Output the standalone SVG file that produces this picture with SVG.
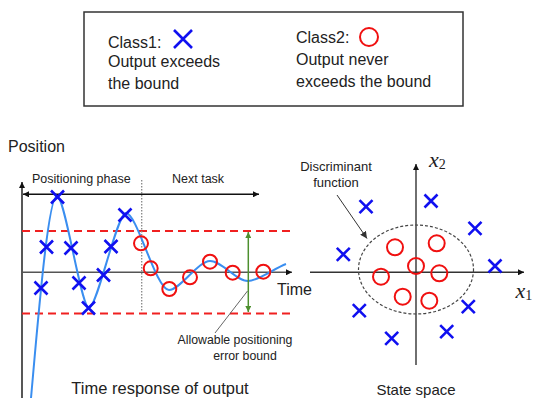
<svg xmlns="http://www.w3.org/2000/svg" xmlns:xlink="http://www.w3.org/1999/xlink" width="535" height="398" viewBox="0 0 535 398">
<style>
text{font-family:"Liberation Sans",Arial,sans-serif;fill:#222}
.cross{fill:none;stroke:#1010f0;stroke-width:2.6}
.circ{fill:none;stroke:#f01010;stroke-width:2}
.bound{stroke:#f02020;stroke-width:2;stroke-dasharray:8 5}
.axis{stroke:#111;stroke-width:1.4;fill:none}
.gaxis{stroke:#555;stroke-width:1.4;fill:none}
.var{font-family:"Liberation Serif","Times New Roman",serif;font-style:italic;font-size:22px}
.sub{font-style:normal;font-size:14px}
</style>
<defs>
<path id="x" d="M-6.5,-6.5L6.5,6.5M-6.5,6.5L6.5,-6.5"/>
<marker id="ah" viewBox="0 0 10 10" refX="10" refY="5" markerWidth="6" markerHeight="6" orient="auto-start-reverse" markerUnits="userSpaceOnUse"><path d="M0,0L10,5L0,10z" fill="#111"/></marker>
<marker id="ahg" viewBox="0 0 10 10" refX="10" refY="5" markerWidth="6" markerHeight="6" orient="auto-start-reverse" markerUnits="userSpaceOnUse"><path d="M0,0L10,5L0,10z" fill="#4d8f2e"/></marker>
<marker id="ahd" viewBox="0 0 10 10" refX="10" refY="5" markerWidth="7" markerHeight="7" orient="auto" markerUnits="userSpaceOnUse"><path d="M0,0L10,5L0,10z" fill="#333"/></marker>
</defs>

<g id="legend">
<rect x="84" y="12" width="379" height="94" fill="#fff" stroke="#333" stroke-width="1.5"/>
<text x="108" y="48" font-size="16">Class1:</text>
<path d="M174,30L192,48M174,48L192,30" class="cross" stroke-width="3"/>
<text x="108" y="67" font-size="16">Output exceeds</text>
<text x="108" y="89" font-size="16">the bound</text>
<text x="296" y="43" font-size="16">Class2:</text>
<circle cx="369" cy="37" r="9" class="circ"/>
<text x="296" y="65" font-size="16">Output never</text>
<text x="296" y="86.5" font-size="16">exceeds the bound</text>
</g>

<g id="time-plot">
<text x="8" y="152" font-size="16">Position</text>
<line x1="22" y1="398" x2="22" y2="182" class="axis" marker-end="url(#ah)"/>
<line x1="22" y1="272.3" x2="292" y2="272.3" class="gaxis" marker-end="url(#ah)"/>
<text x="277" y="295" font-size="16">Time</text>
<line x1="22" y1="231" x2="293" y2="231" class="bound"/>
<line x1="22" y1="313.5" x2="293" y2="313.5" class="bound"/>
<line x1="141.7" y1="180" x2="141.7" y2="312" stroke="#888" stroke-width="1.3" stroke-dasharray="1.5 1.5"/>
<line x1="23" y1="194.3" x2="259" y2="194.3" class="axis" marker-start="url(#ah)" marker-end="url(#ah)"/>
<text x="32" y="183" font-size="12.5">Positioning phase</text>
<text x="172" y="183" font-size="12.5">Next task</text>
<path d="M31,398C38,320 48,196 57,196C65,196 81,308 89,308C97,308 117,213 126,213C137,213 156,290 169,290C180,290 198,261 210,261C222,261 236,281 248,281C258,281 275,268 286,264" fill="none" stroke="#3a8ef0" stroke-width="2"/>
<use xlink:href="#x" href="#x" class="cross" x="41" y="288"/>
<use xlink:href="#x" href="#x" class="cross" x="46.5" y="247"/>
<use xlink:href="#x" href="#x" class="cross" x="57.5" y="197"/>
<use xlink:href="#x" href="#x" class="cross" x="71" y="248"/>
<use xlink:href="#x" href="#x" class="cross" x="79" y="283"/>
<use xlink:href="#x" href="#x" class="cross" x="88.5" y="308"/>
<use xlink:href="#x" href="#x" class="cross" x="103.5" y="275"/>
<use xlink:href="#x" href="#x" class="cross" x="111" y="246.5"/>
<use xlink:href="#x" href="#x" class="cross" x="125" y="215"/>
<circle cx="141" cy="243.3" r="7" class="circ"/>
<circle cx="150.7" cy="268.3" r="7" class="circ"/>
<circle cx="169.3" cy="289" r="7" class="circ"/>
<circle cx="190" cy="277.3" r="7" class="circ"/>
<circle cx="210" cy="261.7" r="7" class="circ"/>
<circle cx="232.7" cy="272.7" r="7" class="circ"/>
<circle cx="263.3" cy="271.7" r="7" class="circ"/>
<line x1="248.3" y1="232" x2="248.3" y2="312" stroke="#4d8f2e" stroke-width="1.5" marker-start="url(#ahg)" marker-end="url(#ahg)"/>
<line x1="247.5" y1="291" x2="215" y2="333" stroke="#555" stroke-width="0.9"/>
<text x="235" y="344" font-size="12.3" text-anchor="middle">Allowable positioning</text>
<text x="245" y="360" font-size="12.3" text-anchor="middle">error bound</text>
<text x="160" y="393.5" font-size="16.5" text-anchor="middle">Time response of output</text>
</g>

<g id="state-space">
<line x1="416" y1="365" x2="416" y2="164" stroke="#333" stroke-width="1.4" marker-end="url(#ah)"/>
<line x1="310" y1="272.3" x2="524" y2="272.3" stroke="#333" stroke-width="1.4" marker-end="url(#ah)"/>
<text x="429" y="166.5" class="var">x<tspan class="sub" dy="2">2</tspan></text>
<text x="515.5" y="298" class="var">x<tspan class="sub" dy="2">1</tspan></text>
<ellipse cx="416" cy="269.5" rx="57.5" ry="44.5" fill="none" stroke="#444" stroke-width="1.2" stroke-dasharray="3 2"/>
<text x="336" y="170.5" font-size="13" text-anchor="middle">Discriminant</text>
<text x="336" y="186.5" font-size="13" text-anchor="middle">function</text>
<line x1="337" y1="195" x2="367" y2="238.5" stroke="#333" stroke-width="1" marker-end="url(#ahd)"/>
<circle cx="395" cy="247.3" r="8" class="circ"/>
<circle cx="436.7" cy="243.3" r="8" class="circ"/>
<circle cx="416" cy="266" r="8" class="circ"/>
<circle cx="381" cy="276.7" r="8" class="circ"/>
<circle cx="439.3" cy="273.3" r="8" class="circ"/>
<circle cx="402.7" cy="296.7" r="8" class="circ"/>
<circle cx="429.3" cy="300.7" r="8" class="circ"/>
<use xlink:href="#x" href="#x" class="cross" x="366" y="206.7"/>
<use xlink:href="#x" href="#x" class="cross" x="431" y="201"/>
<use xlink:href="#x" href="#x" class="cross" x="475" y="228.3"/>
<use xlink:href="#x" href="#x" class="cross" x="343.3" y="254.3"/>
<use xlink:href="#x" href="#x" class="cross" x="495" y="266"/>
<use xlink:href="#x" href="#x" class="cross" x="359.3" y="310.7"/>
<use xlink:href="#x" href="#x" class="cross" x="468.3" y="306.7"/>
<use xlink:href="#x" href="#x" class="cross" x="391.7" y="338.3"/>
<use xlink:href="#x" href="#x" class="cross" x="446.7" y="331.7"/>
<text x="416" y="394.5" font-size="15" text-anchor="middle">State space</text>
</g>
</svg>
